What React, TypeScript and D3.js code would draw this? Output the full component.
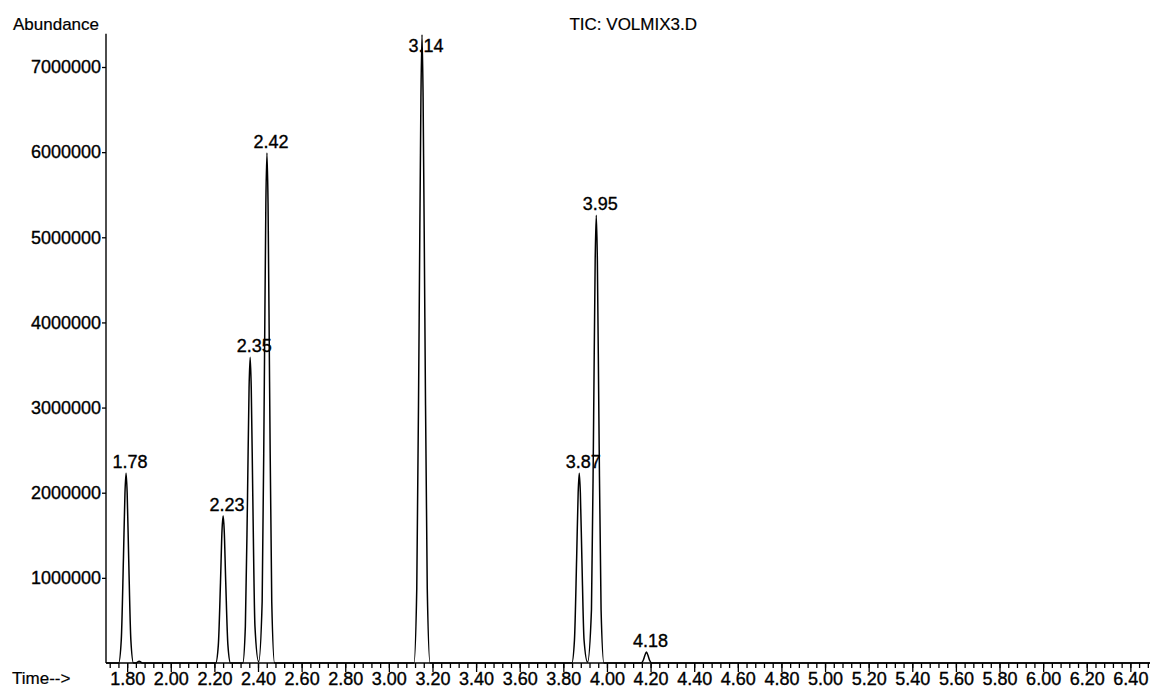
import React, { useEffect, useRef } from "react";
import * as d3 from "d3";

// chromatogram trace (time in min, abundance)
const traceTime = [
  1.703, 1.761, 1.773, 1.783, 1.79, 1.795, 1.8, 1.807, 1.817, 1.829,
  1.84, 1.855, 1.87,
  2.206, 2.218, 2.228, 2.235, 2.24, 2.245, 2.252, 2.262, 2.274,
  2.33, 2.342, 2.352, 2.359, 2.364, 2.369, 2.376, 2.386, 2.403,
  2.419, 2.429, 2.436, 2.441, 2.446, 2.453, 2.463, 2.476,
  3.115, 3.128, 3.139, 3.147, 3.152, 3.157, 3.165, 3.176, 3.189,
  3.839, 3.851, 3.861, 3.868, 3.873, 3.878, 3.885, 3.895, 3.911,
  3.929, 3.939, 3.946, 3.951, 3.956, 3.963, 3.973, 3.986,
  4.157, 4.166, 4.174, 4.181, 4.188, 4.196, 4.205,
  6.49,
];
const traceAbundance = [
  0, 0, 270000, 1230000, 2000000, 2230000, 2000000, 1230000, 270000, 0,
  0, 22000, 0,
  0, 210000, 950000, 1560000, 1730000, 1560000, 950000, 210000, 0,
  0, 430000, 1970000, 3230000, 3590000, 3230000, 1970000, 430000, 15000,
  720000, 3300000, 5400000, 5990000, 5400000, 3300000, 720000, 0,
  0, 880000, 4060000, 6640000, 7380000, 6640000, 4060000, 880000, 0,
  0, 270000, 1230000, 2000000, 2230000, 2000000, 1230000, 270000, 10000,
  630000, 2890000, 4730000, 5260000, 4730000, 2890000, 630000, 0,
  0, 30000, 90000, 130000, 90000, 30000, 0,
  0,
];

// labelled peaks
const peakLabels = ["1.78", "2.23", "2.35", "2.42", "3.14", "3.87", "3.95", "4.18"];
const peakTimes = [1.795, 2.24, 2.364, 2.441, 3.152, 3.873, 3.951, 4.181];
const peakHeights = [2230000, 1730000, 3590000, 5990000, 7380000, 2230000, 5260000, 130000];

const xTickLabels = [
  "1.80", "2.00", "2.20", "2.40", "2.60", "2.80", "3.00", "3.20", "3.40", "3.60", "3.80", "4.00",
  "4.20", "4.40", "4.60", "4.80", "5.00", "5.20", "5.40", "5.60", "5.80", "6.00", "6.20", "6.40",
];
const yTicks = [1000000, 2000000, 3000000, 4000000, 5000000, 6000000, 7000000];

const W = 1154;
const H = 698;
const FONT = "'Liberation Sans', Arial, sans-serif";
const FS = 18;

export default function App() {
  const ref = useRef<SVGSVGElement>(null);

  useEffect(() => {
    const svg = d3.select(ref.current);
    svg.selectAll("*").remove();

    const x = d3.scaleLinear().domain([1.703, 6.49]).range([106, 1150]);
    const y = d3.scaleLinear().domain([0, 7000000]).range([663, 67]);
    const yTop = y(7390000);

    // y axis
    const gy = svg.append("g").attr("transform", "translate(106,0)")
      .call(d3.axisLeft(y).tickValues(yTicks).tickSize(4).tickPadding(1).tickFormat(d3.format("d")));
    gy.select(".domain").remove();
    gy.append("line").attr("x1", 0).attr("x2", 0).attr("y1", y(0)).attr("y2", yTop)
      .attr("stroke", "#000").attr("stroke-width", 1.4);

    // x axis: minor ticks every 0.04, labelled every 0.2
    const minor = d3.range(1.72, 6.49, 0.04);
    const gxm = svg.append("g").attr("transform", `translate(0,${y(0)})`)
      .call(d3.axisBottom(x).tickValues(minor).tickSize(5).tickFormat(() => ""));
    gxm.select(".domain").remove();
    const gx = svg.append("g").attr("transform", `translate(0,${y(0)})`)
      .call(d3.axisBottom(x).tickValues(xTickLabels.map(Number)).tickSize(9).tickPadding(0)
        .tickFormat((d, i) => xTickLabels[i]));
    gx.select(".domain").remove();
    svg.append("line").attr("x1", 106).attr("x2", 1150).attr("y1", y(0)).attr("y2", y(0))
      .attr("stroke", "#000").attr("stroke-width", 1.4);

    svg.selectAll(".tick line").attr("stroke", "#000").attr("stroke-width", 1.3);
    svg.selectAll(".tick text").attr("font-family", FONT).attr("font-size", FS).attr("fill", "#000")
      .attr("stroke", "#000").attr("stroke-width", 0.35);

    // trace
    const pts = traceTime.map((t, i) => [t, traceAbundance[i]] as [number, number]);
    svg.append("path")
      .datum(pts)
      .attr("fill", "none")
      .attr("stroke", "#000")
      .attr("stroke-width", 1.5)
      .attr("d", d3.line<[number, number]>()
        .x(d => x(d[0]))
        .y(d => y(d[1]))
        .curve(d3.curveMonotoneX));

    // peak labels
    svg.append("g").selectAll("text")
      .data(peakLabels)
      .join("text")
      .attr("x", (d, i) => x(peakTimes[i]) + 4)
      .attr("y", (d, i) => Math.max(y(peakHeights[i]) - 5, 52))
      .attr("text-anchor", "middle")
      .attr("font-family", FONT)
      .attr("font-size", FS)
      .attr("fill", "#000")
      .attr("stroke", "#000")
      .attr("stroke-width", 0.35)
      .text(d => d);

    const title = svg.append("g").attr("font-family", FONT).attr("font-size", 17).attr("fill", "#000")
      .attr("stroke", "#000").attr("stroke-width", 0.2);
    title.append("text").attr("x", 13).attr("y", 30).text("Abundance");
    title.append("text").attr("x", 697).attr("y", 30).attr("text-anchor", "end").text("TIC: VOLMIX3.D");
    title.append("text").attr("x", 12).attr("y", 684).text("Time-->");
  }, []);

  return (
    <svg
      ref={ref}
      width={W}
      height={H}
      style={{ position: "absolute", left: 0, top: 0, background: "#fff" }}
    />
  );
}
